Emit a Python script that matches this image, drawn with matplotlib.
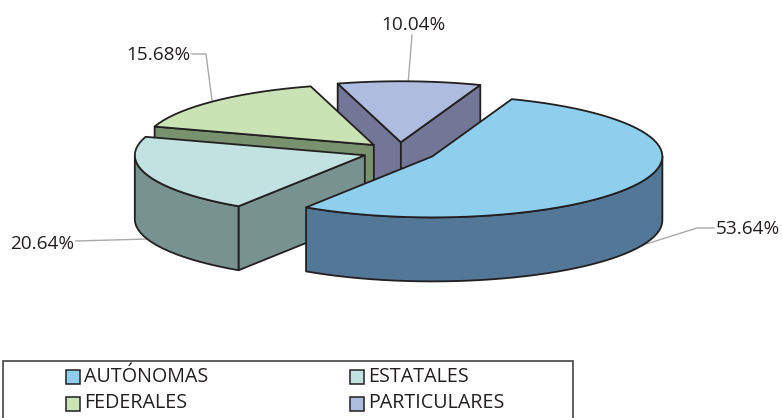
import numpy as np
import matplotlib
matplotlib.use("Agg")
import matplotlib.pyplot as plt
from matplotlib.patches import Polygon, Rectangle

# datos
categorias = ["AUTÓNOMAS", "ESTATALES", "FEDERALES", "PARTICULARES"]
porcentajes = [53.64, 20.64, 15.68, 10.04]
etiquetas = ["53.64%", "20.64%", "15.68%", "10.04%"]

color_tapa = ["#8FCFEE", "#C1E2E1", "#C9E3B5", "#AEBDDF"]
color_lado = ["#537796", "#78928F", "#78916F", "#737797"]
borde = "#231F20"
gris = "#A8A8A8"

# geometria del pastel en pixeles
cx, cy = 399.5, 152.0
rx, ry = 230.0, 61.0
prof = 64.0
explode = 0.16
inicio = 69.8

fig = plt.figure(figsize=(7.82, 4.18), dpi=100)
ax = fig.add_axes([0, 0, 1, 1])
ax.set_xlim(0, 782)
ax.set_ylim(418, 0)
ax.axis("off")


def punto(c, ang):
    a = np.radians(ang)
    return c[0] + rx * np.cos(a), c[1] - ry * np.sin(a)


def arco(c, a0, a1):
    n = max(2, int(abs(a1 - a0) / 3) + 1)
    return [punto(c, a) for a in np.linspace(a0, a1, n)]


def bajar(pts):
    return [(x, y + prof) for x, y in pts]


def cara(pts, color, z):
    ax.add_patch(Polygon(pts, closed=True, fc=color, ec=borde, lw=1.3, joinstyle="round", zorder=z))


# rebanadas en sentido horario, se pintan de atras hacia adelante
angulos = inicio - np.cumsum([0] + [p * 3.6 for p in porcentajes])
orden = [3, 2, 1, 0]
for z, i in enumerate(orden):
    a0, a1 = angulos[i], angulos[i + 1]
    medio = np.radians((a0 + a1) / 2)
    c = (cx + explode * rx * np.cos(medio), cy - explode * ry * np.sin(medio))
    zb = 3 + z * 3

    # caras radiales visibles
    if np.cos(np.radians(a0)) < 0:
        borde_r = [c, punto(c, a0)]
        cara(borde_r + bajar(borde_r)[::-1], color_lado[i], zb)
    if np.cos(np.radians(a1)) > 0:
        borde_r = [c, punto(c, a1)]
        cara(borde_r + bajar(borde_r)[::-1], color_lado[i], zb)

    # pared exterior, solo la parte de enfrente
    for k in range(-1, 1):
        lo, hi = -180 + 360 * k, 360 * k
        p0, p1 = min(max(a0, lo), hi), min(max(a1, lo), hi)
        if p0 - p1 > 0.01:
            pared = arco(c, p0, p1)
            cara(pared + bajar(pared)[::-1], color_lado[i], zb + 1)

    # tapa
    cara([c] + arco(c, a0, a1), color_tapa[i], zb + 2)

# lineas guia
guias = [
    ([714, 697, 640], [228, 228, 246]),
    ([76, 148], [241, 239]),
    ([192, 206, 212], [54, 54, 100]),
    ([412, 408], [35, 84]),
]
for xs, ys in guias:
    ax.plot(xs, ys, color=gris, lw=1.0, zorder=1)

pos_etiqueta = [(748, 229), (42, 244), (158, 55), (413, 25)]
for txt, (x, y) in zip(etiquetas, pos_etiqueta):
    ax.text(x, y, txt, ha="center", va="center", fontsize=13.7, family="Open Sans", color="#231F20", zorder=20)

# leyenda
ax.add_patch(Rectangle((3, 361), 570, 70, fc="white", ec="#333333", lw=1.1, zorder=15))
pos_ley = [(66, 370), (350, 370), (66, 397), (350, 397)]
for nombre, col, (x, y) in zip(categorias, color_tapa, pos_ley):
    ax.add_patch(Rectangle((x, y), 14, 14, fc=col, ec=borde, lw=1.1, zorder=16))
    ax.text(x + 18.5, y + 6.5, nombre, ha="left", va="center", fontsize=14.2, family="Open Sans", color="#231F20", zorder=17)

fig.savefig("out.png", dpi=100)
